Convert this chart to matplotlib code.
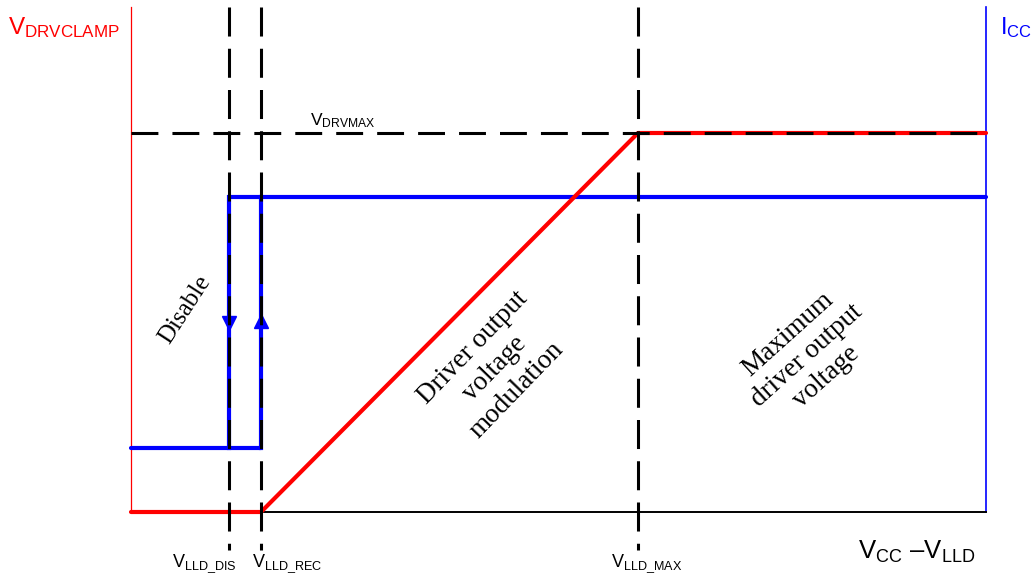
import numpy as np
import matplotlib
matplotlib.use("Agg")
import matplotlib.pyplot as plt

plt.rcParams['font.family'] = ['Liberation Sans', 'DejaVu Sans']
plt.rcParams['mathtext.fontset'] = 'custom'
plt.rcParams['mathtext.rm'] = 'Liberation Sans'
plt.rcParams['mathtext.it'] = 'Liberation Sans'
plt.rcParams['mathtext.bf'] = 'Liberation Sans:bold'

# Schematic values (arbitrary units)
x_lld_dis = 0.98
x_lld_rec = 1.30
x_lld_max = 5.07
x_end = 8.55
y_top = 5.05
y_guide_end = -0.38
v_drvmax = 3.79
icc_high = 3.15
icc_low = 0.64

# Driver clamp curve (red)
clamp_x = [0, x_lld_rec, x_lld_max, x_end]
clamp_y = [0, 0, v_drvmax, v_drvmax]

# Icc hysteresis (blue)
icc_low_x = [0, x_lld_rec]
icc_low_y = [icc_low, icc_low]
icc_high_x = [x_lld_dis, x_end]
icc_high_y = [icc_high, icc_high]

fig = plt.figure(figsize=(10.33, 5.74), dpi=100)
ax = fig.add_axes([0, 0, 1, 1])
ax.set_xlim(-1.31, 9.02)
ax.set_ylim(-0.62, 5.12)
ax.axis('off')

# Axes of the diagram
ax.plot([0, 0], [0, y_top], color='red', lw=0.9, zorder=1)
ax.plot([x_end, x_end], [0, y_top], color='blue', lw=1.2, zorder=1)
ax.plot([0, x_end], [0, 0], color='black', lw=1.4, zorder=1)

# Icc curve
ax.plot(icc_low_x, icc_low_y, color='blue', lw=3, solid_capstyle='round', zorder=2)
ax.plot(icc_high_x, icc_high_y, color='blue', lw=3, solid_capstyle='round', zorder=2)
ax.plot([x_lld_dis, x_lld_dis], [icc_low, icc_high], color='blue', lw=3, zorder=2)
ax.plot([x_lld_rec, x_lld_rec], [icc_low, icc_high], color='blue', lw=3, zorder=2)
arrow_y = (icc_low + icc_high) / 2 + 0.02
ax.plot([x_lld_dis], [arrow_y - 0.02], marker='v', color='blue', ms=10, zorder=4)
ax.plot([x_lld_rec], [arrow_y], marker='^', color='blue', ms=10, zorder=4)

# Clamp curve
ax.plot(clamp_x, clamp_y, color='red', lw=3, solid_capstyle='round', zorder=3)

# Dashed guides
for xv in [x_lld_dis, x_lld_rec, x_lld_max]:
    ax.plot([xv, xv], [y_top, y_guide_end], color='black', lw=2.2,
            dashes=(9.5, 4.0), zorder=5)
ax.plot([0, x_end], [v_drvmax, v_drvmax], color='black', lw=2.2,
        dashes=(8.8, 4.6), zorder=5)

# Labels
ax.text(-1.23, 4.78, r'$\mathrm{V}_{\mathrm{DRVCLAMP}}$', color='red', fontsize=17.5,
        ha='left', va='baseline')
ax.text(x_end + 0.14, 4.78, r'$\mathrm{I}_{\mathrm{CC}}$', color='blue', fontsize=17,
        ha='left', va='baseline')
ax.text(1.79, 3.87, r'$\mathrm{V}_{\mathrm{DRVMAX}}$', color='black', fontsize=12.5,
        ha='left', va='baseline')
ax.text(0.41, -0.55, r'$\mathrm{V}_{\mathrm{LLD\_DIS}}$', color='black', fontsize=13,
        ha='left', va='baseline')
ax.text(1.21, -0.55, r'$\mathrm{V}_{\mathrm{LLD\_REC}}$', color='black', fontsize=13,
        ha='left', va='baseline')
ax.text(4.80, -0.55, r'$\mathrm{V}_{\mathrm{LLD\_MAX}}$', color='black', fontsize=13,
        ha='left', va='baseline')
ax.text(7.27, -0.47, r'$\mathrm{V}_{\mathrm{CC}}$ ' + '\u2013' + r'$\mathrm{V}_{\mathrm{LLD}}$',
        color='black', fontsize=18.5, ha='left', va='baseline')

serif = ['Liberation Serif', 'DejaVu Serif']
ax.text(0.54, 2.02, 'Disable', family=serif, fontsize=18, rotation=57,
        ha='center', va='center', rotation_mode='anchor')
ax.text(3.64, 1.43, 'Driver output\nvoltage\nmodulation', family=serif, fontsize=19.5,
        rotation=46, ha='center', va='center', rotation_mode='anchor',
        multialignment='center', linespacing=1.3)
ax.text(6.76, 1.56, 'Maximum\ndriver output\nvoltage', family=serif, fontsize=19.5,
        rotation=42, ha='center', va='center', rotation_mode='anchor',
        multialignment='center', linespacing=1.2)

fig.savefig('out.png', dpi=100)
